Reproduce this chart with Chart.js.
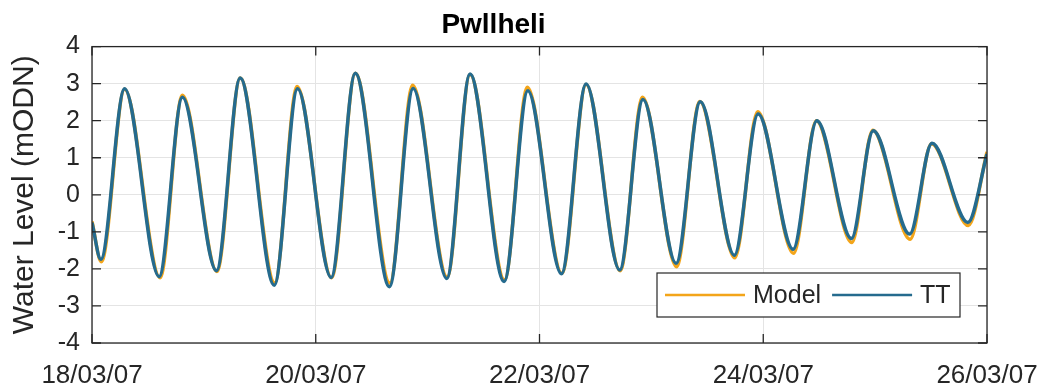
<!DOCTYPE html>
<html>
<head>
<meta charset="utf-8">
<script src="https://cdn.jsdelivr.net/npm/chart.js@4.4.1/dist/chart.umd.min.js"></script>
<style>
  body { margin: 0; background: #fff; }
  canvas { display: block; }
</style>
</head>
<body>
<canvas id="tideChart" width="1044" height="392"></canvas>
<script>
// hours after 18/03/07 00:00, read at each high / low water
const ttHours = [0, 1.9, 7.0, 14.4, 19.4, 26.7, 31.8, 39.1, 44.1, 51.3, 56.5, 63.8, 68.9, 76.1, 81.1, 88.4, 93.5,
  100.7, 106.0, 113.2, 118.2, 125.3, 130.5, 137.8, 142.9, 150.4, 155.5, 162.9, 167.6, 175.4, 180.2, 187.9, 192.0];
const ttLevel = [-0.75, -1.74, 2.86, -2.21, 2.63, -2.05, 3.15, -2.44, 2.86, -2.23, 3.28, -2.48, 2.87, -2.26, 3.26, -2.34, 2.81,
  -2.13, 2.99, -2.03, 2.57, -1.85, 2.51, -1.63, 2.18, -1.47, 2.00, -1.18, 1.73, -1.06, 1.39, -0.75, 1.10];
const modelHours = [0, 2.0, 7.0, 14.6, 19.4, 26.8, 31.8, 39.2, 44.0, 51.4, 56.5, 63.9, 68.8, 76.2, 81.1, 88.5, 93.4,
  100.8, 106.0, 113.3, 118.1, 125.4, 130.4, 137.9, 142.8, 150.5, 155.4, 163.0, 167.5, 175.5, 180.1, 188.0, 192.0];
const modelLevel = [-0.72, -1.81, 2.85, -2.24, 2.69, -2.07, 3.15, -2.38, 2.92, -2.24, 3.28, -2.38, 2.96, -2.22, 3.25, -2.30, 2.90,
  -2.12, 2.98, -2.05, 2.63, -1.94, 2.52, -1.70, 2.24, -1.58, 2.00, -1.29, 1.74, -1.20, 1.38, -0.83, 1.16];
const dayLabels = ['18/03/07', '20/03/07', '22/03/07', '24/03/07', '26/03/07'];
const yTicks = [-4, -3, -2, -1, 0, 1, 2, 3, 4];

const FONT = "'Liberation Sans', Arial, sans-serif";
const INK = '#262626';
const MODEL_COL = '#f3a51a';
const TT_COL = '#256b8e';

// white background, frame, inward ticks (matlab style) and the boxed legend
const framePlugin = {
  id: 'frame',
  beforeDraw(chart) {
    const ctx = chart.ctx;
    ctx.save();
    ctx.fillStyle = '#fff';
    ctx.fillRect(0, 0, chart.width, chart.height);
    ctx.restore();
  },
  afterDraw(chart) {
    const ctx = chart.ctx;
    const a = chart.chartArea;
    const xs = chart.scales.x, ys = chart.scales.y;
    ctx.save();
    ctx.strokeStyle = INK;
    ctx.lineWidth = 1.3;
    ctx.strokeRect(a.left, a.top, a.right - a.left, a.bottom - a.top);
    ctx.beginPath();
    yTicks.forEach(v => {
      const y = ys.getPixelForValue(v);
      ctx.moveTo(a.left, y); ctx.lineTo(a.left + 9, y);
      ctx.moveTo(a.right, y); ctx.lineTo(a.right - 9, y);
    });
    dayLabels.forEach((d, i) => {
      const x = xs.getPixelForValue(i * 48);
      ctx.moveTo(x, a.bottom); ctx.lineTo(x, a.bottom - 9);
      ctx.moveTo(x, a.top); ctx.lineTo(x, a.top + 9);
    });
    ctx.stroke();

    // legend box
    const bx = a.right - 330, by = a.bottom - 70, bw = 303, bh = 44;
    ctx.fillStyle = '#fff';
    ctx.fillRect(bx, by, bw, bh);
    ctx.lineWidth = 1.2;
    ctx.strokeRect(bx, by, bw, bh);
    ctx.font = '25px ' + FONT;
    ctx.textBaseline = 'middle';
    ctx.fillStyle = INK;
    const my = by + bh / 2;
    let x = bx + 8;
    chart.data.datasets.forEach(ds => {
      ctx.strokeStyle = ds.borderColor;
      ctx.lineWidth = 2.5;
      ctx.beginPath();
      ctx.moveTo(x, my); ctx.lineTo(x + 80, my);
      ctx.stroke();
      ctx.fillText(ds.label, x + 88, my + 1);
      x += 88 + ctx.measureText(ds.label).width + 11;
    });
    ctx.restore();
  }
};

const chart = new Chart(document.getElementById('tideChart'), {
  type: 'line',
  data: {
    datasets: [{
      label: 'Model',
      data: modelHours.map((h, i) => ({x: h, y: modelLevel[i]})),
      borderColor: MODEL_COL,
      borderWidth: 3.5,
      pointRadius: 0,
      order: 2,
      cubicInterpolationMode: 'monotone'
    }, {
      label: 'TT',
      data: ttHours.map((h, i) => ({x: h, y: ttLevel[i]})),
      borderColor: TT_COL,
      borderWidth: 3.5,
      pointRadius: 0,
      order: 1,
      cubicInterpolationMode: 'monotone'
    }]
  },
  options: {
    responsive: false,
    animation: false,
    layout: {padding: {left: 0, right: 57, top: 0, bottom: 0}},
    plugins: {
      legend: {display: false},
      tooltip: {enabled: false},
      title: {
        display: true,
        text: 'Pwllheli',
        color: '#000',
        font: {family: FONT, size: 28, weight: 'bold'},
        padding: {top: 8, bottom: 5}
      }
    },
    scales: {
      x: {
        type: 'linear',
        min: 0,
        max: 192,
        ticks: {
          stepSize: 48,
          maxRotation: 0,
          color: INK,
          padding: 17,
          font: {family: FONT, size: 26},
          callback: v => dayLabels[v / 48]
        },
        grid: {color: '#e4e4e4', drawTicks: false},
        border: {display: false},
        afterFit: s => { s.height = 49; s.paddingLeft = 0; s.paddingRight = 0; }
      },
      y: {
        min: -4,
        max: 4,
        ticks: {
          stepSize: 1,
          color: INK,
          padding: 12,
          font: {family: FONT, size: 25}
        },
        grid: {color: '#e4e4e4', drawTicks: false},
        border: {display: false},
        title: {
          display: true,
          text: 'Water Level (mODN)',
          color: INK,
          font: {family: FONT, size: 30},
          padding: {top: 7, bottom: 0}
        },
        afterFit: s => { s.width = 92; }
      }
    }
  },
  plugins: [framePlugin]
});
</script>
</body>
</html>
